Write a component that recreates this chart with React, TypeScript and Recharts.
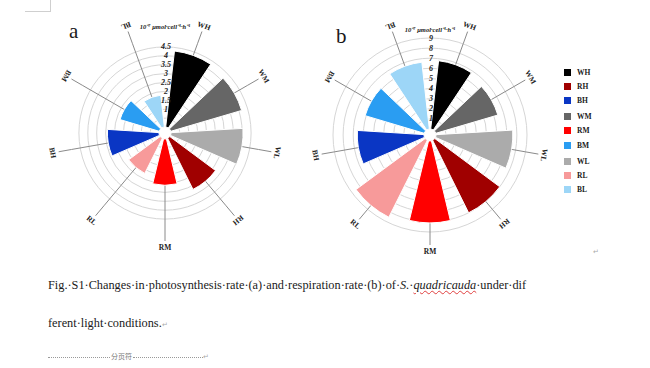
import {
  Cell,
  PolarAngleAxis,
  PolarGrid,
  PolarRadiusAxis,
  RadialBar,
  RadialBarChart,
} from "recharts";

const conditions = ["WH", "WM", "WL", "RH", "RM", "RL", "BH", "BM", "BL"];
const barColors = [
  "#000000",
  "#666666",
  "#ababab",
  "#a00000",
  "#ff0000",
  "#f79a9a",
  "#0a36c4",
  "#2a9df2",
  "#9dd6f7",
];
// photosynthesis rate (a), 10^-7 umol cell-1 h-1
const photosynthesisRate = [4.3, 4.15, 4.05, 3.2, 2.6, 2.2, 2.9, 2.3, 1.8];
// respiration rate (b)
const respirationRate = [6.8, 6.4, 7.6, 8.0, 8.1, 8.5, 6.6, 6.1, 6.65];
const photoTicks = [0.5, 1, 1.5, 2, 2.5, 3, 3.5, 4, 4.5];
const respTicks = [1, 2, 3, 4, 5, 6, 7, 8, 9];
const legendGroups = [
  ["WH", "RH", "BH"],
  ["WM", "RM", "BM"],
  ["WL", "RL", "BL"],
];

const SIZE = 260;
const C = SIZE / 2;
const SERIF = "'Liberation Serif', 'Times New Roman', serif";
const unitLabel = "10⁻⁷ μmol·cell⁻¹·h⁻¹";
const STEP = 360 / conditions.length;

// angle-axis ticks land on band edges, so the label and its spoke are moved half a band
function makeConditionTick(outer: number) {
  return (props: any) => {
    const { payload } = props;
    const ang = payload.coordinate + STEP / 2;
    const a = (-ang * Math.PI) / 180;
    const cos = Math.cos(a);
    const sin = Math.sin(a);
    const lr = outer + 19;
    const lx = C + lr * cos;
    const ly = C + lr * sin;
    // clockwise angle from north, text turned by it modulo 180
    const theta = (((90 - ang) % 360) + 360) % 360;
    const rot = theta % 180;
    return (
      <g>
        <line
          x1={C + outer * cos}
          y1={C + outer * sin}
          x2={C + (outer + 13) * cos}
          y2={C + (outer + 13) * sin}
          stroke="#8a8a8a"
        />
        <text
          x={lx}
          y={ly}
          textAnchor="middle"
          dominantBaseline="central"
          transform={`rotate(${rot} ${lx} ${ly})`}
          fontFamily={SERIF}
          fontWeight="bold"
          fontSize={7.5}
          fill="#222"
        >
          {payload.value}
        </text>
      </g>
    );
  };
}

function renderRateTick(props: any) {
  const { x, y, payload } = props;
  if (payload.value < 1) return <g />;
  return (
    <text
      x={x + 1}
      y={y}
      textAnchor="middle"
      dominantBaseline="central"
      fontFamily={SERIF}
      fontStyle="italic"
      fontWeight="bold"
      fontSize={8}
      fill="#222"
    >
      {payload.value}
    </text>
  );
}

type RoseProps = {
  values: number[];
  ticks: number[];
  max: number;
  outer: number;
  left: number;
  top: number;
};

function Rose({ values, ticks, max, outer, left, top }: RoseProps) {
  const data = conditions.map((name, i) => ({ name, value: values[i] }));
  const spokeAngles = conditions.map((_, i) => 90 - (i + 0.5) * STEP);

  return (
    <div style={{ position: "absolute", left, top, width: SIZE, height: SIZE }}>
      <RadialBarChart
        width={SIZE}
        height={SIZE}
        data={data}
        layout="centric"
        cx={C}
        cy={C}
        innerRadius={6}
        outerRadius={outer}
        startAngle={90 - STEP}
        endAngle={-270 - STEP}
        barCategoryGap="16%"
        margin={{ top: 0, right: 0, bottom: 0, left: 0 }}
      >
        <PolarGrid gridType="circle" polarAngles={[]} stroke="#d6d6d6" />
        <PolarGrid gridType="circle" polarRadius={[]} polarAngles={spokeAngles} stroke="#8a8a8a" />
        <PolarAngleAxis
          type="category"
          dataKey="name"
          axisLine={false}
          tickLine={false}
          tick={makeConditionTick(outer)}
        />
        <PolarRadiusAxis
          type="number"
          angle={90}
          domain={[0, max]}
          ticks={ticks}
          axisLine={false}
          tickLine={false}
          tick={renderRateTick}
        />
        <RadialBar dataKey="value" isAnimationActive={false} stroke="#ffffff" strokeWidth={1}>
          {data.map((d, i) => (
            <Cell key={d.name} fill={barColors[i]} />
          ))}
        </RadialBar>
      </RadialBarChart>
    </div>
  );
}

const dots = (w: number) => (
  <span
    style={{
      display: "inline-block",
      width: w,
      borderBottom: "1px dotted #999",
      verticalAlign: "middle",
    }}
  />
);

const unitStyle = {
  position: "absolute" as const,
  width: 100,
  textAlign: "center" as const,
  fontSize: 6.5,
  lineHeight: "9px",
  fontStyle: "italic",
  fontWeight: "bold",
};

export default function App() {
  return (
    <div
      style={{
        position: "absolute",
        left: 0,
        top: 0,
        width: 650,
        height: 368,
        background: "#ffffff",
        overflow: "hidden",
        fontFamily: SERIF,
        color: "#1a1a1a",
      }}
    >
      {/* page corner mark */}
      <div style={{ position: "absolute", left: 25, top: 11, width: 25, borderTop: "1px solid #cfcfcf" }} />
      <div style={{ position: "absolute", left: 50, top: 0, height: 12, borderLeft: "1px solid #cfcfcf" }} />

      <Rose values={photosynthesisRate} ticks={photoTicks} max={4.5} outer={95} left={35} top={3} />
      <Rose values={respirationRate} ticks={respTicks} max={9} outer={97} left={300} top={5} />

      <div style={{ position: "absolute", left: 69, top: 19, fontSize: 21, lineHeight: "24px" }}>a</div>
      <div style={{ position: "absolute", left: 336, top: 24, fontSize: 21, lineHeight: "24px" }}>b</div>

      <div style={{ ...unitStyle, left: 115, top: 22 }}>{unitLabel}</div>
      <div style={{ ...unitStyle, left: 380, top: 25 }}>{unitLabel}</div>

      {legendGroups.map((group, g) =>
        group.map((name, r) => {
          const cy = 72 + g * 44.7 + r * 14.2;
          return (
            <div
              key={name}
              style={{ position: "absolute", left: 564, top: cy - 5, height: 10, display: "flex", alignItems: "center" }}
            >
              <span style={{ width: 7, height: 7, background: barColors[conditions.indexOf(name)] }} />
              <span style={{ marginLeft: 6, fontSize: 7.5, fontWeight: "bold" }}>{name}</span>
            </div>
          );
        })
      )}

      <div style={{ position: "absolute", left: 593, top: 248, fontSize: 7, color: "#aaa" }}>↵</div>

      <div style={{ position: "absolute", left: 48, top: 277, fontSize: 12.3, lineHeight: "16px", whiteSpace: "nowrap" }}>
        Fig.·S1·Changes·in·photosynthesis·rate·(a)·and·respiration·rate·(b)·of·<i>S.</i>·
        <i style={{ textDecoration: "underline wavy #e04040", textDecorationThickness: 1 }}>quadricauda</i>·under·dif
      </div>
      <div style={{ position: "absolute", left: 48, top: 315, fontSize: 12.3, lineHeight: "16px", whiteSpace: "nowrap" }}>
        ferent·light·conditions.<span style={{ fontSize: 7, color: "#aaa" }}>↵</span>
      </div>
      <div
        style={{
          position: "absolute",
          left: 48,
          top: 350,
          fontSize: 7,
          lineHeight: "12px",
          color: "#777",
          whiteSpace: "nowrap",
          fontFamily: "'Noto Sans CJK SC', sans-serif",
        }}
      >
        {dots(62)}
        <span style={{ margin: "0 1px" }}>分页符</span>
        {dots(70)}
        <span style={{ color: "#aaa" }}>↵</span>
      </div>
    </div>
  );
}
